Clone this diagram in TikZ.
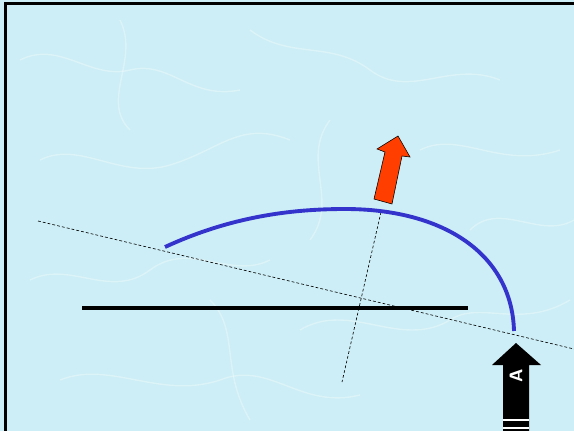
\documentclass[tikz,border=0pt]{standalone}
\usepackage{tikz}
\definecolor{water}{RGB}{205,238,246}
\definecolor{arcblue}{RGB}{52,52,204}
\definecolor{arrowred}{RGB}{255,62,0}
\tikzset{
  guide/.style={line width=0.9pt, dash pattern=on 4pt off 3pt, black},
  caustic/.style={white, opacity=0.3, line width=2pt},
}
\begin{document}
\begin{tikzpicture}[x=0.05cm, y=-0.05cm]
\useasboundingbox (0,0) rectangle (574,431);
\fill[water] (0,0) rectangle (574,431);
% faint caustic texture
\begin{scope}
\clip (0,0) rectangle (574,431);
\draw[caustic] (20,60) .. controls (60,40) and (90,80) .. (130,70) .. controls (170,60) and (190,100) .. (240,90);
\draw[caustic] (250,30) .. controls (290,60) and (330,40) .. (370,70) .. controls (410,100) and (450,60) .. (500,80);
\draw[caustic] (40,160) .. controls (80,140) and (120,180) .. (170,165) .. controls (220,150) and (240,120) .. (290,140);
\draw[caustic] (420,150) .. controls (460,130) and (500,170) .. (560,150);
\draw[caustic] (30,280) .. controls (70,260) and (110,300) .. (150,270) .. controls (190,240) and (230,280) .. (270,260);
\draw[caustic] (300,330) .. controls (350,300) and (400,350) .. (450,320) .. controls (480,300) and (520,330) .. (570,300);
\draw[caustic] (60,380) .. controls (110,360) and (160,400) .. (220,380) .. controls (270,360) and (300,410) .. (360,395);
\draw[caustic] (470,230) .. controls (500,200) and (540,240) .. (574,220);
\draw[caustic] (120,20) .. controls (140,60) and (100,100) .. (130,130);
\draw[caustic] (330,120) .. controls (300,160) and (340,200) .. (310,240);
\draw[caustic] (210,300) .. controls (240,330) and (220,370) .. (250,420);
\end{scope}
% frame
\draw[line width=3pt, black] (5.5,431) -- (5.5,3.5) -- (574,3.5);
% dashed guide lines
\coordinate (g1) at (38,221);
\coordinate (g2) at (574,349);
\coordinate (p1) at (381,212);
\coordinate (p2) at (342,382);
\draw[guide] (g1) -- (g2);
\draw[guide] (p1) -- (p2);
% black horizontal line
\coordinate (h1) at (82,308);
\coordinate (h2) at (468,308);
\draw[line width=5.5pt, black] (h1) -- (h2);
% blue arc
\coordinate (a1) at (165,247);
\coordinate (a2) at (345,209);
\coordinate (a3) at (514,331);
\draw[line width=5.5pt, arcblue] (a1) .. controls (230,217) and (290,209) .. (a2) .. controls (445,209) and (512,255) .. (a3);
% red arrow
\filldraw[fill=arrowred, draw=black, line width=0.8pt, line join=miter]
  (374,199) -- (392,204) -- (402,156) -- (410,157) -- (398,136) -- (377,149) -- (385,152) -- cycle;
% black arrow
\fill[black] (503,440) -- (503,365) -- (492,365) -- (516,343) -- (541,365) -- (529,365) -- (529,440) -- cycle;
\draw[white, line width=1.6pt] (503,420) -- (529,420);
\draw[white, line width=1.6pt] (503,428) -- (529,428);
\node[white, rotate=90, font=\sffamily\bfseries\fontsize{26}{28}\selectfont, inner sep=0pt] (lblA) at (516,376) {A};
\end{tikzpicture}
\end{document}
